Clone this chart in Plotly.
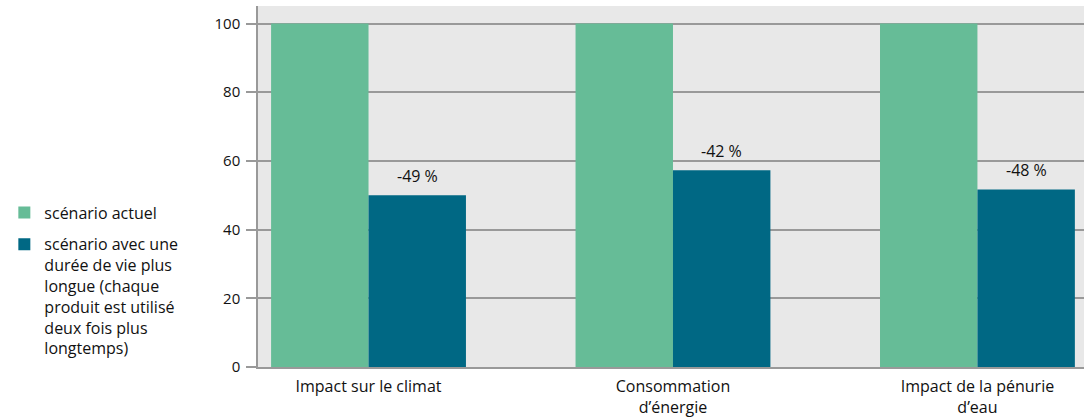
import plotly.graph_objects as go

categories = ["Impact sur le climat", "Consommation<br>d’énergie", "Impact de la pénurie<br>d’eau"]
series_names = ["scénario actuel",
                "scénario avec une<br>durée de vie plus<br>longue (chaque<br>produit est utilisé<br>deux fois plus<br>longtemps)"]
actuel = [100, 100, 100]
longue = [50, 57.3, 51.7]
labels = ["-49 %", "-42 %", "-48 %"]
y_ticks = [0, 20, 40, 60, 80, 100]

green = "#66bc97"
blue = "#006884"
font_family = "'Open Sans', sans-serif"
txt = "#111111"

fig = go.Figure()
fig.add_trace(go.Bar(x=categories, y=actuel, name=series_names[0], legendgroup="a",
                     marker=dict(color=green, line=dict(width=0))))
fig.add_trace(go.Bar(x=categories, y=longue, name=series_names[1], legendgroup="b",
                     marker=dict(color=blue, line=dict(width=0))))

for i, (v, lab) in enumerate(zip(longue, labels)):
    fig.add_annotation(x=i + 0.16, y=v, text=lab, showarrow=False, yshift=19,
                       font=dict(size=16, color=txt, family=font_family))

fig.update_layout(
    width=1084, height=417,
    margin=dict(l=0, r=0, t=6, b=50, autoexpand=False),
    paper_bgcolor="white",
    plot_bgcolor="#e8e8e8",
    barmode="group", bargap=0.36, bargroupgap=0,
    font=dict(family=font_family, size=16, color=txt),
    showlegend=True,
    legend=dict(x=0.004, xanchor="left", y=0.475, yanchor="top", valign="top",
                font=dict(size=16, color=txt), tracegroupgap=8, bgcolor="rgba(0,0,0,0)"),
    xaxis=dict(domain=[258 / 1084, 1], range=[-0.363, 2.35], showgrid=False, automargin=False,
               showline=True, linecolor="#999999", linewidth=1.5, ticks="",
               ticklabelstandoff=4,
               tickfont=dict(size=16, color=txt), fixedrange=True),
    yaxis=dict(range=[0, 105.1], tickvals=y_ticks, showgrid=True, gridcolor="#999999", gridwidth=1.5,
               automargin=False, ticklabelstandoff=3,
               showline=True, linecolor="#999999", linewidth=1.5, ticks="outside", ticklen=10,
               tickcolor="#999999", tickwidth=1.5, zeroline=False,
               tickfont=dict(size=15, color=txt)),
)

fig.write_html("out.html", config={"displayModeBar": False},
               post_script="document.body.style.margin='0';document.body.style.overflow='hidden';")
